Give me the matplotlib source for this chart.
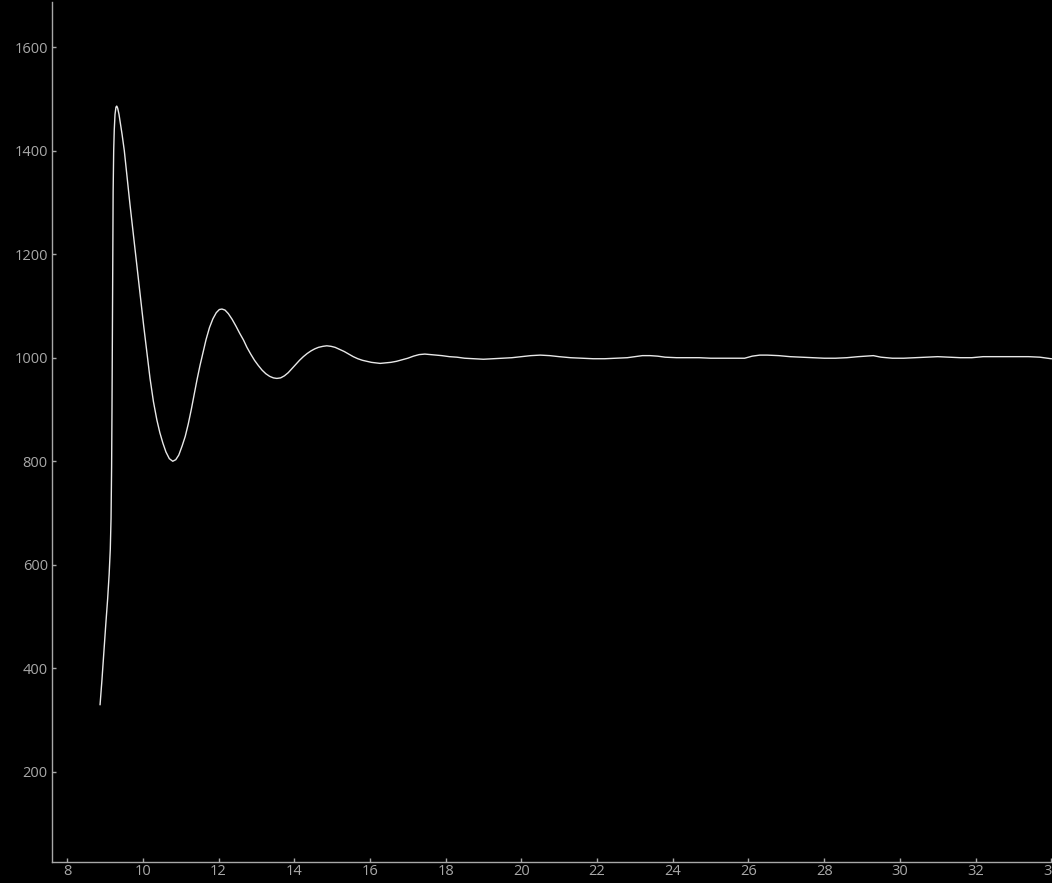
import matplotlib
matplotlib.use("Agg")
import matplotlib.pyplot as plt

# time (x) and response (y)
t = [8.87, 8.92, 8.97, 9.02, 9.07, 9.11, 9.14, 9.16, 9.175, 9.185, 9.195, 9.205,
     9.215, 9.23, 9.245, 9.265, 9.29, 9.31, 9.335, 9.37, 9.40, 9.45, 9.51, 9.58,
     9.66, 9.75, 9.84, 9.93, 10.02, 10.11, 10.19, 10.28, 10.37, 10.45, 10.53,
     10.61, 10.70, 10.79, 10.87, 10.95, 11.04, 11.12, 11.20, 11.28, 11.36, 11.43,
     11.51, 11.59, 11.67, 11.76, 11.85, 11.94, 12.02, 12.09, 12.17, 12.26, 12.36,
     12.46, 12.56, 12.66, 12.75, 12.85, 12.95, 13.05, 13.15, 13.25, 13.35, 13.45,
     13.54, 13.64, 13.74, 13.84, 13.94, 14.04, 14.14, 14.24, 14.34, 14.44, 14.54,
     14.64, 14.76, 14.86, 14.97, 15.08, 15.2, 15.32, 15.44, 15.56, 15.68, 15.8,
     15.92, 16.04, 16.16, 16.27, 16.4, 16.55, 16.7, 16.85, 17.0, 17.15, 17.3,
     17.45, 17.6, 17.75, 17.9, 18.1, 18.3, 18.5, 18.75, 19.0, 19.25, 19.5, 19.75,
     20.0, 20.25, 20.5, 20.75, 21.0, 21.3, 21.6, 21.9, 22.2, 22.5, 22.8, 23.0,
     23.2, 23.4, 23.6, 23.8, 24.1, 24.4, 24.7, 25.0, 25.3, 25.6, 25.9, 26.1,
     26.3, 26.5, 26.8, 27.1, 27.4, 27.7, 28.0, 28.3, 28.6, 28.9, 29.1, 29.3,
     29.5, 29.8, 30.1, 30.4, 30.7, 31.0, 31.3, 31.6, 31.9, 32.2, 32.5, 32.8,
     33.1, 33.4, 33.7, 34.0]
value = [330, 378, 432, 484, 534, 582, 630, 690, 790, 900, 1050, 1200,
         1320, 1400, 1440, 1470, 1484, 1486, 1482, 1470, 1456, 1432, 1400, 1352,
         1296, 1238, 1180, 1121, 1063, 1008, 960, 915, 880, 855, 835,
         818, 805, 800, 803, 812, 830, 848, 872, 900, 930, 957,
         985, 1010, 1035, 1058, 1075, 1087, 1093, 1094, 1092, 1085, 1074,
         1061, 1047, 1034, 1020, 1007, 995, 985, 976, 969, 964, 961,
         960, 961, 965, 971, 979, 987, 995, 1002, 1008, 1013, 1017,
         1020, 1022, 1023, 1022, 1020, 1016, 1012, 1007, 1002, 998, 995,
         993, 991, 990, 989, 990, 991, 993, 996, 999, 1003, 1006,
         1007, 1006, 1005, 1004, 1002, 1001, 999, 998, 997, 998, 999, 1000,
         1002, 1004, 1005, 1004, 1002, 1000, 999, 998, 998, 999, 1000, 1002,
         1004, 1004, 1003, 1001, 1000, 1000, 1000, 999, 999, 999, 999, 1003,
         1005, 1005, 1004, 1002, 1001, 1000, 999, 999, 1000, 1002, 1003, 1004,
         1001, 999, 999, 1000, 1001, 1002, 1001, 1000, 1000, 1002, 1002, 1002,
         1002, 1002, 1001, 998]

xticks = list(range(8, 36, 2))
yticks = list(range(200, 1800, 200))

plt.rcParams['font.family'] = ['Open Sans', 'DejaVu Sans']
grey = '#a8a8a8'

fig = plt.figure(figsize=(10.52, 8.83), dpi=100, facecolor='black')
ax = fig.add_axes([52 / 1052, 21 / 883, 1 - 52 / 1052, 860 / 883])
ax.set_facecolor('black')

ax.plot(t, value, color='#e8e8e8', lw=1.0)

ax.set_xlim(7.6, 34.02)
ax.set_ylim(26, 1687)
ax.set_xticks(xticks)
ax.set_yticks(yticks)

for side in ('top', 'right'):
    ax.spines[side].set_visible(False)
for side in ('left', 'bottom'):
    ax.spines[side].set_color(grey)
    ax.spines[side].set_linewidth(1.0)
ax.tick_params(direction='in', colors=grey, labelcolor=grey, labelsize=10.5,
               length=3, width=1)
ax.tick_params(axis='x', pad=1.5)
ax.tick_params(axis='y', pad=3)

fig.savefig('out.png', dpi=100, facecolor='black')
